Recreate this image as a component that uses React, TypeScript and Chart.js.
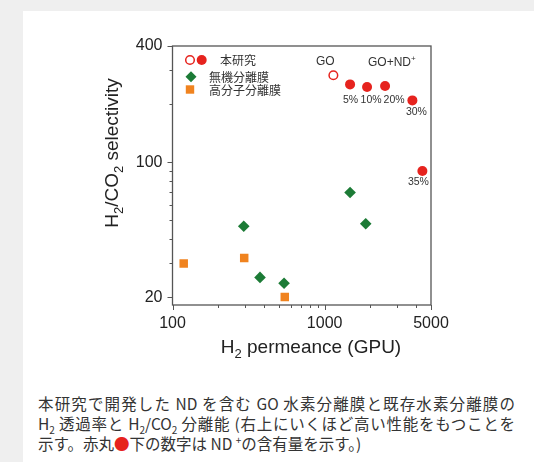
import React, { useEffect, useRef } from 'react';
import { Chart, registerables } from 'chart.js';

Chart.register(...registerables);

// ---- data ----
const goPermeance = [1141];
const goSelectivity = [282];
const ndPermeance = [1469, 1900, 2495, 3773, 4390];
const ndSelectivity = [253, 245, 248, 209, 90.1];
const ndLabels = ['5%', '10%', '20%', '30%', '35%'];
const inorganicPermeance = [294, 376, 541, 1469, 1862];
const inorganicSelectivity = [46.6, 25.3, 23.6, 69.7, 48];
const polymerPermeance = [118.5, 296, 547];
const polymerSelectivity = [29.9, 31.9, 20];

const xTicks = [100, 200, 300, 400, 500, 600, 700, 800, 900, 1000, 2000, 3000, 4000, 5000];
const xTickLabels = [100, 1000, 5000];
const yTicks = [20, 30, 40, 50, 60, 70, 80, 90, 100, 200, 300, 400];
const yTickLabels = [20, 100, 400];

const legendLabels = ['本研究', '無機分離膜', '高分子分離膜'];
const goLabel = 'GO';
const goNdLabel = 'GO+ND';

// ---- styles ----
const RED = '#e6231e';
const GREEN = '#1c7b36';
const ORANGE = '#f0831f';
const TEXT = '#222';
const ndLabelOffsets = [[0.5, 16], [4, 13.5], [9, 14], [4, 11.5], [-4, 11.5]];

type Part = { t: string; sub?: boolean; sup?: boolean };

function drawRich(ctx: CanvasRenderingContext2D, parts: Part[], x: number, y: number, size: number, align: 'center' | 'left', family: string) {
  const fontFor = (p: Part) => `${p.sub || p.sup ? Math.round(size * 0.66) : size}px ${family}`;
  let total = 0;
  for (const p of parts) {
    ctx.font = fontFor(p);
    total += ctx.measureText(p.t).width;
  }
  let cx = align === 'center' ? x - total / 2 : x;
  ctx.textAlign = 'left';
  ctx.textBaseline = 'alphabetic';
  for (const p of parts) {
    ctx.font = fontFor(p);
    const dy = p.sub ? size * 0.28 : p.sup ? -size * 0.42 : 0;
    ctx.fillText(p.t, cx, y + dy);
    cx += ctx.measureText(p.t).width;
  }
}

const overlay = {
  id: 'overlay',
  beforeDatasetsDraw(chart: any) {
    const { ctx, chartArea: a, scales } = chart;
    const x = scales.x;
    const y = scales.y;
    ctx.save();
    ctx.strokeStyle = '#555';
    ctx.lineWidth = 1.3;
    ctx.strokeRect(a.left, a.top, a.right - a.left, a.bottom - a.top);
    ctx.lineWidth = 1;
    for (const v of xTicks) {
      const px = Math.round(x.getPixelForValue(v)) + 0.5;
      const len = xTickLabels.includes(v) ? 5 : 3;
      ctx.beginPath();
      ctx.moveTo(px, a.bottom);
      ctx.lineTo(px, a.bottom + len);
      ctx.stroke();
    }
    for (const v of yTicks) {
      const py = Math.round(y.getPixelForValue(v)) + 0.5;
      const len = yTickLabels.includes(v) ? 5 : 3;
      ctx.beginPath();
      ctx.moveTo(a.left, py);
      ctx.lineTo(a.left - len, py);
      ctx.stroke();
    }
    ctx.restore();
  },
  afterDatasetsDraw(chart: any) {
    const { ctx, scales } = chart;
    const x = scales.x;
    const y = scales.y;
    const fam = '"Liberation Sans", Arial, sans-serif';
    ctx.save();
    ctx.fillStyle = TEXT;

    // axis titles
    drawRich(ctx, [{ t: 'H' }, { t: '2', sub: true }, { t: ' permeance (GPU)' }], 311, 353, 19, 'center', fam);
    ctx.save();
    ctx.translate(118, 153);
    ctx.rotate(-Math.PI / 2);
    drawRich(ctx, [{ t: 'H' }, { t: '2', sub: true }, { t: '/CO' }, { t: '2', sub: true }, { t: ' selectivity' }], 0, 0, 19, 'center', fam);
    ctx.restore();

    // series labels
    ctx.fillStyle = '#333';
    ctx.font = `12px ${fam}`;
    ctx.textAlign = 'center';
    ctx.textBaseline = 'middle';
    const gx = x.getPixelForValue(goPermeance[0]);
    const gy = y.getPixelForValue(goSelectivity[0]);
    ctx.fillText(goLabel, gx - 8, gy - 14);
    drawRich(ctx, [{ t: goNdLabel }, { t: '+', sup: true }], 368, gy - 9.5, 12, 'left', fam);

    ctx.font = `10.5px ${fam}`;
    ctx.textAlign = 'center';
    ctx.textBaseline = 'middle';
    ndLabels.forEach((lab, i) => {
      const px = x.getPixelForValue(ndPermeance[i]);
      const py = y.getPixelForValue(ndSelectivity[i]);
      ctx.fillText(lab, px + ndLabelOffsets[i][0], py + ndLabelOffsets[i][1]);
    });

    // legend
    const cj = '"Noto Sans CJK JP", sans-serif';
    ctx.lineWidth = 1.5;
    ctx.strokeStyle = RED;
    ctx.fillStyle = '#fff';
    ctx.beginPath();
    ctx.arc(190, 60, 4.3, 0, Math.PI * 2);
    ctx.fill();
    ctx.stroke();
    ctx.fillStyle = RED;
    ctx.beginPath();
    ctx.arc(201.7, 60, 5, 0, Math.PI * 2);
    ctx.fill();
    ctx.fillStyle = GREEN;
    ctx.beginPath();
    ctx.moveTo(191, 76.7 - 5.5);
    ctx.lineTo(191 + 5.5, 76.7);
    ctx.lineTo(191, 76.7 + 5.5);
    ctx.lineTo(191 - 5.5, 76.7);
    ctx.closePath();
    ctx.fill();
    ctx.fillStyle = ORANGE;
    ctx.fillRect(190 - 4.2, 89.5 - 4.2, 8.4, 8.4);

    ctx.fillStyle = '#333';
    ctx.font = `12px ${cj}`;
    ctx.textAlign = 'left';
    ctx.textBaseline = 'middle';
    ctx.fillText(legendLabels[0], 220, 60);
    ctx.fillText(legendLabels[1], 209, 77);
    ctx.fillText(legendLabels[2], 209, 90);
    ctx.restore();
  },
};

function ChartView() {
  const ref = useRef<HTMLCanvasElement | null>(null);
  useEffect(() => {
    if (!ref.current) return;
    const toPts = (xs: number[], ys: number[]) => xs.map((v, i) => ({ x: v, y: ys[i] }));
    const chart = new Chart(ref.current, {
      type: 'scatter',
      data: {
        datasets: [
          {
            label: 'polymer',
            data: toPts(polymerPermeance, polymerSelectivity),
            pointStyle: 'rect',
            pointRadius: 6,
            backgroundColor: ORANGE,
            borderColor: ORANGE,
            borderWidth: 0,
          },
          {
            label: 'inorganic',
            data: toPts(inorganicPermeance, inorganicSelectivity),
            pointStyle: 'rectRot',
            pointRadius: 5.8,
            backgroundColor: GREEN,
            borderColor: GREEN,
            borderWidth: 0,
          },
          {
            label: 'GO',
            data: toPts(goPermeance, goSelectivity),
            pointStyle: 'circle',
            pointRadius: 4.3,
            backgroundColor: '#fff',
            borderColor: RED,
            borderWidth: 1.5,
          },
          {
            label: 'GO+ND',
            data: toPts(ndPermeance, ndSelectivity),
            pointStyle: 'circle',
            pointRadius: 5,
            backgroundColor: RED,
            borderColor: RED,
            borderWidth: 0,
          },
        ],
      },
      options: {
        responsive: false,
        animation: false,
        devicePixelRatio: 1,
        layout: { padding: { left: 100, right: 103, top: 46, bottom: 45 } },
        plugins: { legend: { display: false }, tooltip: { enabled: false } },
        scales: {
          x: {
            type: 'logarithmic',
            min: 100,
            max: 5000,
            grid: { display: false, drawTicks: false },
            border: { display: false },
            afterBuildTicks: (s: any) => {
              s.ticks = xTicks.map((v) => ({ value: v }));
            },
            afterFit: (s: any) => {
              s.height = 30;
            },
            ticks: {
              autoSkip: false,
              maxRotation: 0,
              padding: 9,
              color: TEXT,
              font: { family: '"Liberation Sans", Arial, sans-serif', size: 16 },
              callback: (v: any) => (xTickLabels.includes(Number(v)) ? String(v) : ''),
            },
          },
          y: {
            type: 'logarithmic',
            min: 18.2,
            max: 400,
            grid: { display: false, drawTicks: false },
            border: { display: false },
            afterBuildTicks: (s: any) => {
              s.ticks = yTicks.map((v) => ({ value: v }));
            },
            afterFit: (s: any) => {
              s.width = 72.5;
            },
            ticks: {
              autoSkip: false,
              padding: 10,
              color: TEXT,
              font: { family: '"Liberation Sans", Arial, sans-serif', size: 16 },
              callback: (v: any) => (yTickLabels.includes(Number(v)) ? String(v) : ''),
            },
          },
        },
      },
      plugins: [overlay],
    });
    return () => chart.destroy();
  }, []);
  return <canvas ref={ref} width={534} height={380} style={{ position: 'absolute', left: 0, top: 0, width: 534, height: 380 }} />;
}

const subStyle: React.CSSProperties = { fontSize: 10, lineHeight: 0 };
const justLine: React.CSSProperties = { textAlign: 'justify', textAlignLast: 'justify' as any, whiteSpace: 'nowrap' };

export default function App() {
  return (
    <div style={{ position: 'fixed', left: 0, top: 0, width: 534, height: 462, background: '#efefef', overflow: 'hidden' }}>
      <div style={{ position: 'absolute', left: 23, top: 11, width: 511, height: 451, background: '#fff' }} />
      <ChartView />
      <div
        lang="ja"
        style={{
          position: 'absolute',
          left: 38,
          top: 393,
          width: 477,
          fontFamily: '"Noto Sans CJK JP", sans-serif',
          fontSize: 15.5,
          lineHeight: '20px',
          color: '#333',
        }}
      >
        <div style={{ ...justLine, whiteSpace: 'normal' }}>本研究で開発した ND を含む GO 水素分離膜と既存水素分離膜の</div>
        <div style={{ ...justLine, whiteSpace: 'normal' }}>
          H<sub style={subStyle}>2</sub> 透過率と H<sub style={subStyle}>2</sub>/CO<sub style={subStyle}>2</sub> 分離能 (右上にいくほど高い性能をもつことを
        </div>
        <div style={{ whiteSpace: 'nowrap' }}>
          示す。赤丸<span style={{ color: RED }}>●</span>下の数字は ND <sup style={subStyle}>+</sup>の含有量を示す。)
        </div>
      </div>
    </div>
  );
}
